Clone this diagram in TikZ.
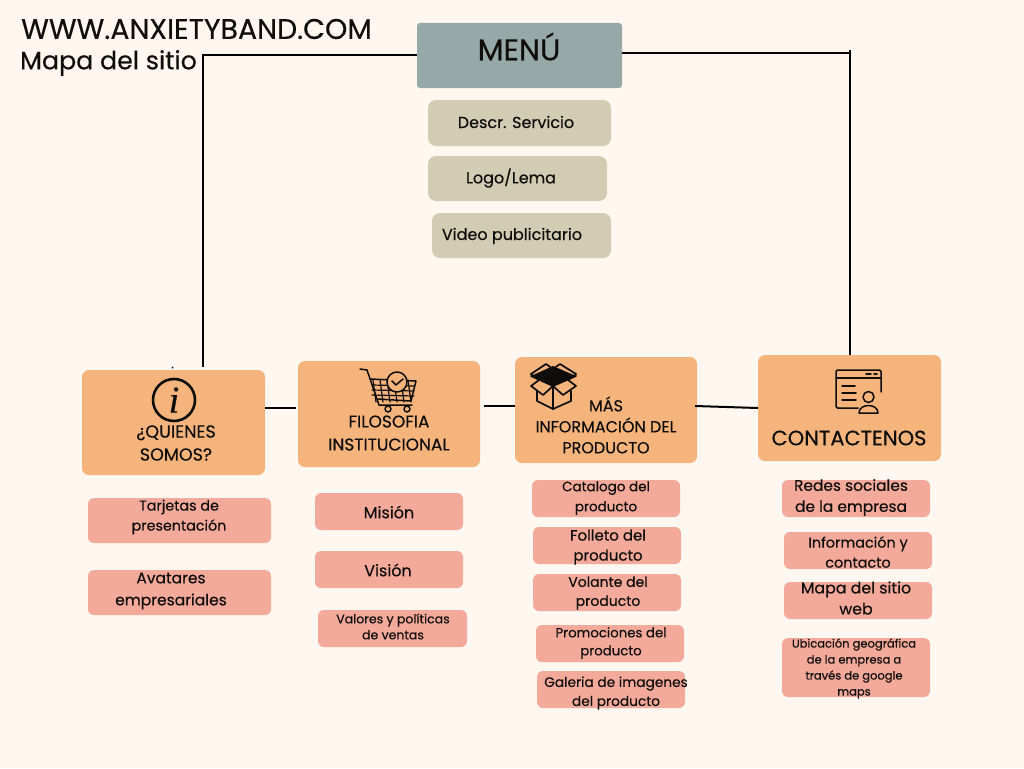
\documentclass[tikz,border=0pt]{standalone}
\usepackage{fontspec}
\setmainfont{Poppins}[FakeBold=0.35]
\newfontfamily\letrai{Liberation Serif}[FakeBold=0.5]
\usetikzlibrary{calc}
\definecolor{fondo}{HTML}{FFF7F0}
\definecolor{gris}{HTML}{96A8A7}
\definecolor{arena}{HTML}{D3CCB5}
\definecolor{naranja}{HTML}{F4B47C}
\definecolor{rosa}{HTML}{F4AA9B}
\definecolor{tinta}{HTML}{0F0D0A}
\tikzset{
    caja/.style={rounded corners=6pt, inner sep=0pt, text=tinta, align=center},
    cajamenu/.style={caja, fill=gris, rounded corners=3pt},
    cajaarena/.style={caja, fill=arena, rounded corners=8pt},
    cajanaranja/.style={caja, fill=naranja, rounded corners=7pt},
    cajarosa/.style={caja, fill=rosa},
    rotulo/.style={inner sep=0pt, text=tinta, align=center},
    linea/.style={black, line width=2pt},
    icono/.style={tinta, line width=1.5pt, line join=round, line cap=round},
}
% caja centrada: nombre, x0, y0, x1, y1
\newcommand{\caja}[6]{\node[#1, minimum width=#4pt-#2pt, minimum height=#5pt-#3pt] (#6) at ({(#2+#4)/2},{(#3+#5)/2}) {};}
\begin{document}
\begin{tikzpicture}[x=1pt, y=-1pt]
    \fill[fondo] (0,0) rectangle (1024,768);
    \useasboundingbox (0,0) rectangle (1024,768);

    % cajas
    \caja{cajamenu}{417}{23}{622}{88}{menu}
    \caja{cajaarena}{428}{100}{611}{146}{descr}
    \caja{cajaarena}{428}{156}{607}{201}{logo}
    \caja{cajaarena}{432}{213}{611}{258}{video}
    \caja{cajanaranja}{82}{370}{265}{475}{quienes}
    \caja{cajanaranja}{298}{361}{480}{467}{filosofia}
    \caja{cajanaranja}{515}{357}{697}{463}{mas}
    \caja{cajanaranja}{758}{355}{941}{461}{contactenos}
    \caja{cajarosa}{88}{498}{271}{543}{tarjetas}
    \caja{cajarosa}{88}{570}{271}{615}{avatares}
    \caja{cajarosa}{315}{493}{463}{530}{mision}
    \caja{cajarosa}{315}{551}{463}{588}{vision}
    \caja{cajarosa}{318}{610}{467}{647}{valores}
    \caja{cajarosa}{532}{480}{680}{517}{catalogo}
    \caja{cajarosa}{533}{527}{681}{564}{folleto}
    \caja{cajarosa}{533}{574}{681}{611}{volante}
    \caja{cajarosa}{536}{625}{684}{662}{promociones}
    \caja{cajarosa}{537}{671}{685}{708}{galeria}
    \caja{cajarosa}{782}{480}{930}{517}{redes}
    \caja{cajarosa}{784}{532}{932}{569}{informacion}
    \caja{cajarosa}{784}{582}{932}{619}{mapaweb}
    \caja{cajarosa}{782}{638}{930}{697}{ubicacion}

    % lineas
    \coordinate (esqizq) at (203,55);
    \coordinate (esqder) at (850,53);
    \coordinate (finq) at (203,367);
    \draw[linea] (menu.west |- esqizq) -- (esqizq) -- (finq);
    \draw[linea] (menu.east |- esqder) -- (esqder);
    \coordinate (iniciod) at (850,50);
    \draw[linea] (iniciod) -- (contactenos.north -| esqder);
    \coordinate (q1) at (265,408);
    \coordinate (f0) at (296,408);
    \coordinate (f1) at (484,406);
    \coordinate (m0) at (515,406);
    \coordinate (m1) at (695,406);
    \coordinate (c0) at (758,408);
    \draw[linea] (q1) -- (f0);
    \draw[linea] (f1) -- (m0);
    \draw[linea] (m1) -- (c0);
    \fill[tinta] (172.5,367.5) circle (1);

    % titulos
    \node[rotulo, anchor=west, font=\fontsize{28.4}{28}\selectfont] (sitio) at (21,29) {WWW.ANXIETYBAND.COM};
    \node[rotulo, anchor=west, font=\fontsize{25.3}{25}\selectfont] (mapa) at (20,63) {Mapa del sitio};
    \node[rotulo, font=\fontsize{30}{30}\selectfont] (tmenu) at (519,46.5) {MENÚ};

    % textos
    \tikzset{every node/.append style={rotulo, font=\fontsize{16}{20}\selectfont}}
    \node (tdescr) at (516,122) {Descr. Servicio};
    \node (tlogo) at (511,178) {Logo/Lema};
    \node (tvideo) at (512,236) {Video publicitario};
    \node[font=\fontsize{17.5}{23}\selectfont] (tquienes) at (176,443) {¿QUIENES\\SOMOS?};
    \node[font=\fontsize{17}{23}\selectfont] (tfilosofia) at (389,433) {FILOSOFIA\\INSTITUCIONAL};
    \node[font=\fontsize{16}{21}\selectfont] (tmas) at (606,425) {MÁS\\INFORMACIÓN DEL\\PRODUCTO};
    \node[font=\fontsize{21}{21}\selectfont] (tcontactenos) at (849,438) {CONTACTENOS};
    \node[font=\fontsize{14.3}{20}\selectfont] (ttarjetas) at (179,517) {Tarjetas de\\presentación};
    \node[font=\fontsize{15.5}{22}\selectfont] (tavatares) at (171,591) {Avatares\\empresariales};
    \node (tmision) at (389,512) {Misión};
    \node (tvision) at (388,570) {Visión};
    \node[font=\fontsize{12.5}{16}\selectfont] (tvalores) at (393,626.5) {Valores y políticas\\de ventas};
    \node[font=\fontsize{13.5}{20}\selectfont] (tcatalogo) at (606,498) {Catalogo del\\producto};
    \node[font=\fontsize{15}{20}\selectfont] (tfolleto) at (608,547) {Folleto del\\producto};
    \node[font=\fontsize{14}{19}\selectfont] (tvolante) at (608,593) {Volante del\\producto};
    \node[font=\fontsize{13.3}{18}\selectfont] (tpromociones) at (611,643) {Promociones del\\producto};
    \node[font=\fontsize{13.7}{19}\selectfont] (tgaleria) at (616,693) {Galeria de imagenes\\del producto};
    \node[font=\fontsize{15.4}{21}\selectfont] (tredes) at (851,497.5) {Redes sociales\\de la empresa};
    \node[font=\fontsize{14.4}{20}\selectfont] (tinformacion) at (858,552) {Información y\\contacto};
    \node[font=\fontsize{15.8}{21}\selectfont] (tmapaweb) at (856,598) {Mapa del sitio\\web};
    \node[font=\fontsize{11.5}{16}\selectfont] (tubicacion) at (854,668.5) {Ubicación geográfica\\de la empresa a\\través de google\\maps};

    % icono info
    \draw[icono, line width=2.6pt] (174,400) circle (21);
    \node[font=\fontsize{38}{38}\selectfont\letrai\itshape] (iinfo) at (174,400) {i};

    % icono carrito
    \begin{scope}[icono, line width=1.5pt]
        \draw (360,369) -- (367,370) -- (379,405) -- (412,405);
        \draw (370,379) -- (416,381) -- (411,401) -- (377,399);
        \foreach \x in {373,380,387,394,401,408} \draw[line width=1.2pt] (\x,380) -- (\x+3,402);
        \foreach \y in {385,390,395} \draw[line width=1.2pt] (372,\y) -- (414,\y+1);
        \draw[fill=naranja] (397,382) circle (10);
        \draw (392,381) -- (396,385) -- (403,379);
        \draw (388,409) circle (3);
        \draw (407,409) circle (3);
    \end{scope}

    % icono paquete
    \begin{scope}[icono, line width=1.7pt]
        \fill[tinta] (531,376) -- (553,366) -- (576,376) -- (553,386) -- cycle;
        \draw (531,376) -- (553,386) -- (576,376);
        \draw (531,374) -- (546,364) -- (553,369) -- (560,364) -- (576,374);
        \draw (531,374) -- (539,380) -- (531,386) -- (543,395) -- (553,386) -- (563,395) -- (576,386) -- (568,380) -- (576,374);
        \draw (537,391) -- (537,401) -- (553,409) -- (571,401) -- (571,391);
        \draw (553,386) -- (553,409);
    \end{scope}

    % icono ventana
    \begin{scope}[icono, line width=1.5pt]
        \draw[rounded corners=1.5pt] (858,408) -- (836,408) -- (836,370) -- (881,370) -- (881,392);
        \draw (836,378) -- (881,378);
        \draw (866,374) -- (871,374);
        \draw (874,374) -- (877,374);
        \draw (842,386) -- (855,386);
        \draw (842,393) -- (856,393);
        \draw (842,400) -- (856,400);
        \draw (868.5,397) circle (5.5);
        \draw[fill=naranja] (859,413) .. controls (859,403) and (878,403) .. (878,413) -- cycle;
    \end{scope}
\end{tikzpicture}
\end{document}
